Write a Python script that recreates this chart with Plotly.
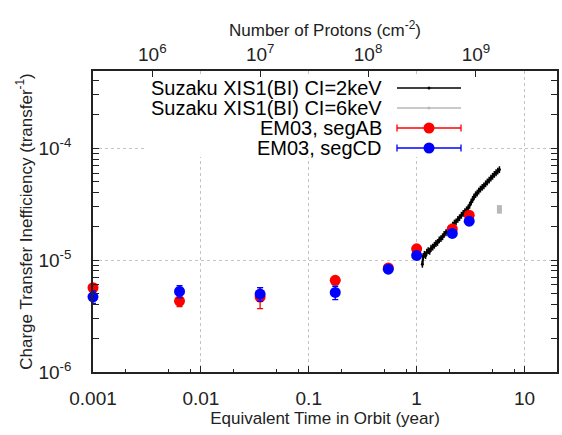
import numpy as np
import plotly.graph_objects as go

# ---------------- data ----------------
PROTONS_PER_YEAR = 2.82e8  # conversion used for the top axis

em03_years = [0.001, 0.00634, 0.0354, 0.176, 0.546, 1.0, 2.14, 3.07]
segAB_cti = [5.66e-6, 4.30e-6, 4.68e-6, 6.60e-6, 8.50e-6, 1.26e-5, 1.90e-5, 2.52e-5]
segAB_err = [0.35e-6, 0.45e-6, 1.0e-6, 0.45e-6, 0.4e-6, 0.5e-6, 0.8e-6, 1.0e-6]
segCD_cti = [4.70e-6, 5.25e-6, 4.97e-6, 5.14e-6, 8.30e-6, 1.10e-5, 1.73e-5, 2.23e-5]
segCD_err = [0.6e-6, 0.65e-6, 0.7e-6, 0.7e-6, 0.4e-6, 0.5e-6, 0.8e-6, 1.0e-6]

xis_2kev_years = [1.13, 1.15, 1.18, 1.21, 1.24, 1.28, 1.32, 1.36, 1.41, 1.46,
                  1.51, 1.56, 1.62, 1.68, 1.74, 1.80, 1.87, 1.94, 2.01, 2.08,
                  2.16, 2.24, 2.32, 2.41, 2.50, 2.60, 2.70, 2.80, 2.90, 3.00,
                  3.10, 3.20, 3.30, 3.40, 3.52, 3.64, 3.76, 3.90, 4.05, 4.20,
                  4.36, 4.52, 4.70, 4.88, 5.06, 5.25, 5.45, 5.65, 5.85]
xis_2kev_cti = [0.92e-5, 1.08e-5, 1.13e-5, 1.10e-5, 1.18e-5, 1.22e-5, 1.20e-5, 1.28e-5, 1.31e-5, 1.36e-5,
                1.41e-5, 1.44e-5, 1.52e-5, 1.56e-5, 1.62e-5, 1.70e-5, 1.76e-5, 1.84e-5, 1.92e-5, 1.97e-5,
                2.06e-5, 2.15e-5, 2.20e-5, 2.32e-5, 2.40e-5, 2.52e-5, 2.62e-5, 2.72e-5, 2.82e-5, 2.92e-5,
                3.10e-5, 3.30e-5, 3.50e-5, 3.68e-5, 3.85e-5, 3.98e-5, 4.15e-5, 4.32e-5, 4.48e-5, 4.62e-5,
                4.82e-5, 5.00e-5, 5.20e-5, 5.42e-5, 5.62e-5, 5.85e-5, 6.05e-5, 6.25e-5, 6.45e-5]

xis_6kev_years = [5.85]
xis_6kev_cti = [2.85e-5]
xis_6kev_err = [0.25e-5]

x_tickvals = [0.001, 0.01, 0.1, 1, 10]
x_ticktext = ["0.001", "0.01", "0.1", "1", "10"]
y_tickvals = [1e-6, 1e-5, 1e-4]
y_ticktext = ["10<sup>-6</sup>", "10<sup>-5</sup>", "10<sup>-4</sup>"]
top_tickvals = [1e6, 1e7, 1e8, 1e9]
top_ticktext = ["10<sup>6</sup>", "10<sup>7</sup>", "10<sup>8</sup>", "10<sup>9</sup>"]

legend_labels = ["Suzaku XIS1(BI) CI=2keV", "Suzaku XIS1(BI) CI=6keV", "EM03, segAB", "EM03, segCD"]
top_title = "Number of Protons (cm<sup>-2</sup>)"

# ---------------- style ----------------
FONT = "Liberation Sans, Arial, Helvetica, sans-serif"
AX = "#222222"
GRID = "#c4c4c4"
RED = "#ff0000"
BLUE = "#0000ff"
GREY = "#b8b8b8"

X_MIN, X_MAX = 0.001, 20
Y_LOG_MIN, Y_LOG_MAX = -6, -3.31

W, H = 562, 435
ML, MR, MT, MB = 93, 5, 71, 63
PW, PH = W - ML - MR, H - MT - MB

fig = go.Figure()

fig.add_trace(go.Scatter(
    x=xis_2kev_years, y=xis_2kev_cti, mode="lines+markers",
    line=dict(color="#000000", width=2.2), marker=dict(size=3, color="#000000"),
    error_y=dict(type="percent", value=7, color="#000000", thickness=1.5, width=0),
    name=legend_labels[0], showlegend=False))

fig.add_trace(go.Scatter(
    x=xis_6kev_years, y=xis_6kev_cti, mode="markers",
    marker=dict(size=4, color=GREY),
    error_y=dict(type="data", array=xis_6kev_err, color=GREY, thickness=5, width=0),
    name=legend_labels[1], showlegend=False))

fig.add_trace(go.Scatter(
    x=em03_years, y=segAB_cti, mode="markers", cliponaxis=False,
    marker=dict(size=11, color=RED),
    error_y=dict(type="data", array=segAB_err, color=RED, thickness=1.3, width=3),
    name=legend_labels[2], showlegend=False))

fig.add_trace(go.Scatter(
    x=em03_years, y=segCD_cti, mode="markers", cliponaxis=False,
    marker=dict(size=11, color=BLUE),
    error_y=dict(type="data", array=segCD_err, color=BLUE, thickness=1.3, width=3),
    name=legend_labels[3], showlegend=False))

# invisible trace so the top (proton fluence) axis exists
fig.add_trace(go.Scatter(
    x=[y * PROTONS_PER_YEAR for y in em03_years], y=segAB_cti, xaxis="x2",
    mode="markers", marker=dict(opacity=0), hoverinfo="skip", showlegend=False))

x_minor = [m * 10.0 ** e for e in range(-3, 2) for m in (2, 5, 8) if m * 10.0 ** e < X_MAX]
y_minor = [m * 10.0 ** e for e in range(-6, -3) for m in range(2, 10) if np.log10(m * 10.0 ** e) < Y_LOG_MAX]

fig.update_layout(
    width=W, height=H,
    margin=dict(l=ML, r=MR, t=MT, b=MB),
    paper_bgcolor="white", plot_bgcolor="white",
    font=dict(family=FONT, color=AX),
    showlegend=False,
    xaxis=dict(
        type="log", range=[np.log10(X_MIN), np.log10(X_MAX)],
        tickmode="array", tickvals=x_tickvals, ticktext=x_ticktext,
        ticks="inside", ticklen=6, tickwidth=1, tickcolor=AX,
        showline=True, linecolor=AX, linewidth=1.5, mirror=True,
        showgrid=True, gridcolor=GRID, griddash="dot", gridwidth=1,
        minor=dict(tickmode="array", tickvals=x_minor, ticks="inside", ticklen=3, tickcolor=AX, showgrid=False),
        tickfont=dict(size=19), ticklabelstandoff=8,
        title=dict(text="Equivalent Time in Orbit (year)", font=dict(size=17), standoff=4),
        automargin=False),
    xaxis2=dict(
        type="log", overlaying="x", side="top", anchor="y",
        range=[np.log10(X_MIN * PROTONS_PER_YEAR), np.log10(X_MAX * PROTONS_PER_YEAR)],
        tickmode="array", tickvals=top_tickvals, ticktext=top_ticktext,
        ticks="inside", ticklen=6, tickwidth=1, tickcolor=AX,
        showline=False, showgrid=False,
        tickfont=dict(size=19), ticklabelstandoff=5,
        automargin=False),
    yaxis=dict(
        type="log", range=[Y_LOG_MIN, Y_LOG_MAX],
        tickmode="array", tickvals=y_tickvals, ticktext=y_ticktext,
        ticks="inside", ticklen=6, tickwidth=1, tickcolor=AX,
        showline=True, linecolor=AX, linewidth=1.5, mirror="allticks",
        showgrid=True, gridcolor=GRID, griddash="dot", gridwidth=1,
        minor=dict(tickmode="array", tickvals=y_minor, ticks="inside", ticklen=3, tickcolor=AX, showgrid=False),
        tickfont=dict(size=19), ticklabelstandoff=16,
        title=dict(text="Charge Transfer Inefficiency (transfer<sup>-1</sup>)", font=dict(size=17), standoff=2),
        automargin=False),
)

# ---------------- key (gnuplot style: text on the left, sample on the right) ----------------
def px_x(px):
    return (px - ML) / PW

def px_y(py):
    return (MT + PH - py) / PH

shapes = [dict(type="rect", xref="paper", yref="paper", layer="above",
               x0=px_x(145), x1=px_x(468), y0=px_y(157), y1=px_y(77),
               fillcolor="white", line=dict(width=0))]
annotations = [dict(xref="paper", yref="paper", x=0.5, y=px_y(29), text=top_title,
                    showarrow=False, xanchor="center", yanchor="middle",
                    font=dict(size=17, color=AX, family=FONT))]
row_y = [88, 108, 128, 148]
key_style = [("#000000", False, 1.5), (GREY, False, 1.5), (RED, True, 1.3), (BLUE, True, 1.3)]
for label, ry, (col, big, lw) in zip(legend_labels, row_y, key_style):
    annotations.append(dict(xref="paper", yref="paper", x=px_x(384), y=px_y(ry),
                            text=label, showarrow=False, xanchor="right", yanchor="middle",
                            font=dict(size=20, color="#000000", family=FONT)))
    shapes.append(dict(type="line", xref="paper", yref="paper", layer="above",
                       x0=px_x(397), x1=px_x(461), y0=px_y(ry), y1=px_y(ry),
                       line=dict(color=col, width=lw)))
    if big:
        for cx in (397, 461):
            shapes.append(dict(type="line", xref="paper", yref="paper", layer="above",
                               x0=px_x(cx), x1=px_x(cx), y0=px_y(ry - 3.5), y1=px_y(ry + 3.5),
                               line=dict(color=col, width=lw)))
        r = 5.5
    else:
        r = 1.5
    shapes.append(dict(type="circle", xref="paper", yref="paper", layer="above",
                       x0=px_x(429 - r), x1=px_x(429 + r), y0=px_y(ry + r), y1=px_y(ry - r),
                       fillcolor=col, line=dict(color=col, width=0)))

fig.update_layout(shapes=shapes, annotations=annotations)

fig.write_html("out.html")
